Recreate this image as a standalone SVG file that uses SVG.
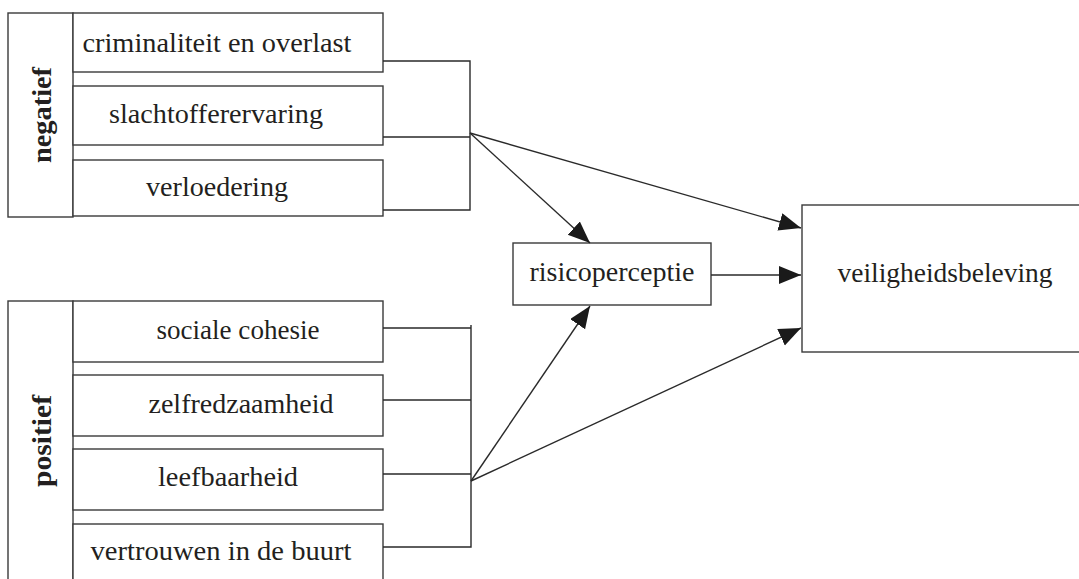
<svg xmlns="http://www.w3.org/2000/svg" width="1079" height="579" viewBox="0 0 1079 579">
<style>
  .box { fill: #ffffff; stroke: #3a3a3a; stroke-width: 1.4; }
  .lbl { font-family: "Liberation Serif", "DejaVu Serif", serif; font-size: 27px; fill: #231f20; text-anchor: middle; }
  .grp { font-family: "Liberation Serif", "DejaVu Serif", serif; font-size: 27px; font-weight: bold; fill: #231f20; text-anchor: middle; }
  .con { fill: none; stroke: #2a2a2a; stroke-width: 1.4; }
</style>
<defs>
  <marker id="arr" markerUnits="userSpaceOnUse" markerWidth="24" markerHeight="20" refX="22" refY="9" orient="auto">
    <path d="M0,0 L22,9 L0,18 z" fill="#1a1a1a"/>
  </marker>
</defs>
<rect width="1079" height="579" fill="#ffffff"/>

<g id="negatief">
  <rect class="box" x="8" y="13" width="65" height="204"/>
  <text class="grp" transform="translate(51,115) rotate(-90)" textLength="96" lengthAdjust="spacingAndGlyphs">negatief</text>
</g>
<g id="criminaliteit">
  <rect class="box" x="73" y="13" width="310" height="59"/>
  <text class="lbl" x="217" y="52" textLength="269" lengthAdjust="spacingAndGlyphs">criminaliteit en overlast</text>
</g>
<g id="slachtoffer">
  <rect class="box" x="73" y="86" width="310" height="59"/>
  <text class="lbl" x="216" y="123" textLength="214" lengthAdjust="spacingAndGlyphs">slachtofferervaring</text>
</g>
<g id="verloedering">
  <rect class="box" x="73" y="160" width="310" height="56"/>
  <text class="lbl" x="217" y="196" textLength="142" lengthAdjust="spacingAndGlyphs">verloedering</text>
</g>

<g id="positief">
  <rect class="box" x="8" y="301" width="65" height="290"/>
  <text class="grp" transform="translate(51,441) rotate(-90)" textLength="92" lengthAdjust="spacingAndGlyphs">positief</text>
</g>
<g id="cohesie">
  <rect class="box" x="73" y="301" width="310" height="61"/>
  <text class="lbl" x="238" y="339" textLength="163" lengthAdjust="spacingAndGlyphs">sociale cohesie</text>
</g>
<g id="zelfredzaamheid">
  <rect class="box" x="73" y="375" width="310" height="61"/>
  <text class="lbl" x="241" y="413" textLength="185" lengthAdjust="spacingAndGlyphs">zelfredzaamheid</text>
</g>
<g id="leefbaarheid">
  <rect class="box" x="73" y="449" width="310" height="61"/>
  <text class="lbl" x="228" y="486" textLength="140" lengthAdjust="spacingAndGlyphs">leefbaarheid</text>
</g>
<g id="vertrouwen">
  <rect class="box" x="73" y="524" width="310" height="70"/>
  <text class="lbl" x="221" y="560" textLength="261" lengthAdjust="spacingAndGlyphs">vertrouwen in de buurt</text>
</g>

<g id="risicoperceptie">
  <rect class="box" x="513" y="243" width="198" height="62"/>
  <text class="lbl" x="612" y="281" textLength="165" lengthAdjust="spacingAndGlyphs">risicoperceptie</text>
</g>
<g id="veiligheidsbeleving">
  <rect class="box" x="802" y="205" width="290" height="147"/>
  <text class="lbl" x="945" y="282" textLength="215" lengthAdjust="spacingAndGlyphs">veiligheidsbeleving</text>
</g>

<g id="connectors">
  <path class="con" d="M383,61 H470 V210 H383 M383,137 H470"/>
  <path class="con" d="M383,328 H471 M471,325 V547 H383 M383,400 H471 M383,474 H471"/>
  <line class="con" x1="470" y1="133" x2="590" y2="243" marker-end="url(#arr)"/>
  <line class="con" x1="470" y1="133" x2="801" y2="228" marker-end="url(#arr)"/>
  <line class="con" x1="711" y1="275" x2="801" y2="275" marker-end="url(#arr)"/>
  <line class="con" x1="471" y1="481" x2="590" y2="306" marker-end="url(#arr)"/>
  <line class="con" x1="471" y1="481" x2="801" y2="328" marker-end="url(#arr)"/>
</g>
</svg>
